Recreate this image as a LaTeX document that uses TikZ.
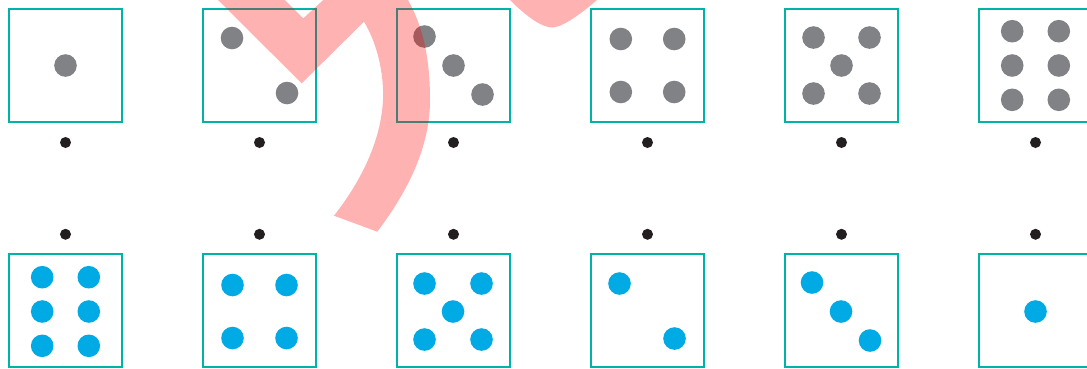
\documentclass[tikz,border=0pt]{standalone}
\definecolor{teal1}{RGB}{0,179,167}
\definecolor{pipgray}{RGB}{128,130,133}
\definecolor{pipcyan}{RGB}{0,170,228}
\definecolor{dotblack}{RGB}{35,31,32}
\tikzset{
  die/.style={draw=teal1, line width=2pt, minimum size=113pt, inner sep=0pt},
  smalldot/.style={circle, fill=dotblack, minimum size=11pt, inner sep=0pt},
  mark overlay/.style={fill=red, fill opacity=0.3}
}
\newcommand\drawpips[3]{%
  \foreach \dx/\dy in {#3} \fill[#2] ([shift={(\dx,\dy)}]#1) circle (11.3pt);}
\begin{document}
\begin{tikzpicture}[x=1pt,y=-1pt]
\useasboundingbox (0,0) rectangle (1087,368);
\clip (0,0) rectangle (1087,368);
% top dice
\node[die] (t1) at (65.5,65.5) {};
\node[die] (t2) at (259.5,65.5) {};
\node[die] (t3) at (453.5,65.5) {};
\node[die] (t4) at (647.5,65.5) {};
\node[die] (t5) at (841.5,65.5) {};
\node[die] (t6) at (1035.5,65.5) {};
\drawpips{t1.center}{pipgray}{0/0}
\drawpips{t2.center}{pipgray}{-27.5/-27.5,27.5/27.5}
\drawpips{t3.center}{pipgray}{-29/-29,0/0,29/29}
\drawpips{t4.center}{pipgray}{-26.7/-26.5,26.7/-26.5,-26.7/26.5,26.7/26.5}
\drawpips{t5.center}{pipgray}{-28/-28,28/-28,0/0,-28/28,28/28}
\drawpips{t6.center}{pipgray}{-23.3/-34.3,23.3/-34.3,-23.3/0,23.3/0,-23.3/34.3,23.3/34.3}
% bottom dice
\node[die] (b1) at (65.5,310.8) {};
\node[die] (b2) at (259.5,310.8) {};
\node[die] (b3) at (453,310.8) {};
\node[die] (b4) at (647.5,310.8) {};
\node[die] (b5) at (841,310.8) {};
\node[die] (b6) at (1035.5,310.8) {};
\drawpips{b1.center}{pipcyan}{-23.3/-33.6,23.3/-33.6,-23.3/0.7,23.3/0.7,-23.3/35,23.3/35}
\drawpips{b2.center}{pipcyan}{-27/-25.8,27/-25.8,-27/27.2,27/27.2}
\drawpips{b3.center}{pipcyan}{-28.5/-27.3,28.5/-27.3,0/0.7,-28.5/28.7,28.5/28.7}
\drawpips{b4.center}{pipcyan}{-28/-27.3,27/27.7}
\drawpips{b5.center}{pipcyan}{-29/-28.3,0/0.7,29/29.7}
\drawpips{b6.center}{pipcyan}{0/0.7}
% small dots
\foreach \i/\x in {1/65.5,2/259.5,3/453.5,4/647.5,5/841.5,6/1035.5}{
  \node[smalldot] (s\i) at (\x,142.5) {};
  \node[smalldot] (u\i) at (\x,234.3) {};
}
% translucent overlay stroke
\fill[mark overlay] (218,0) -- (301.7,83.3) -- (364,21.7)
  .. controls (378,45) and (384,75) .. (383,100)
  .. controls (381,140) and (362,180) .. (334,215.7)
  -- (377.3,231.7)
  .. controls (405,195) and (430,150) .. (430,100)
  .. controls (430,55) and (422,25) .. (408,0)
  -- (323.3,0) -- (303.3,18.3) -- (285,0) -- cycle;
\fill[mark overlay] (510,0) .. controls (528,18) and (543,28) .. (553,27.5)
  .. controls (566,26) and (585,10) .. (597,0) -- cycle;
\end{tikzpicture}
\end{document}
